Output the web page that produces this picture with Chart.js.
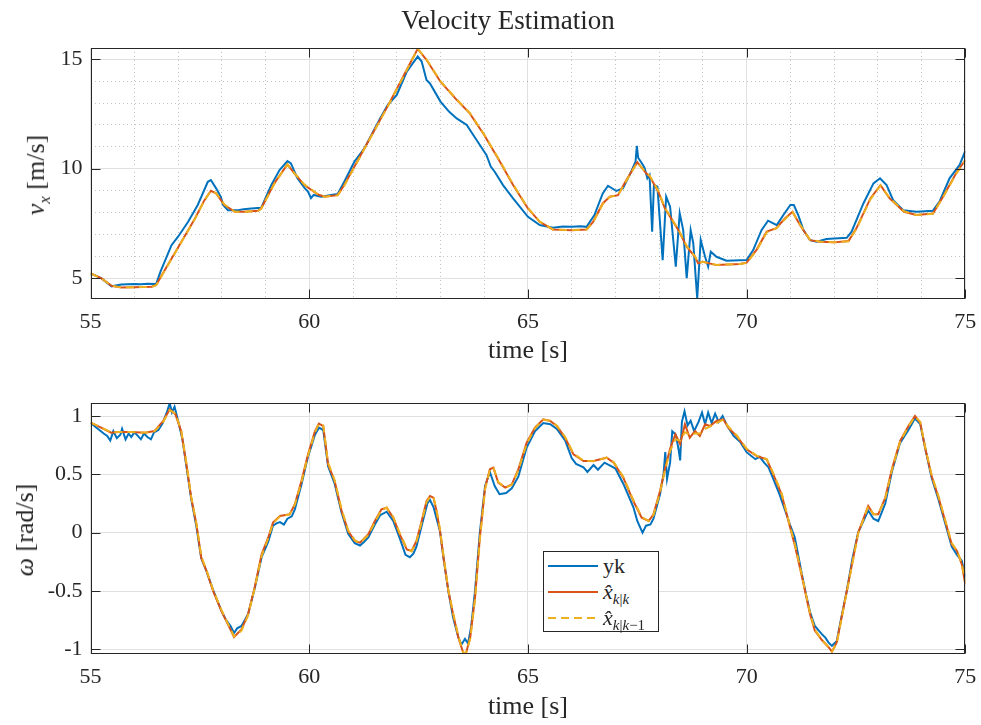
<!DOCTYPE html>
<html>
<head>
<meta charset="utf-8">
<title>Velocity Estimation</title>
<script src="https://cdn.jsdelivr.net/npm/chart.js@4.4.1/dist/chart.umd.min.js"></script>
<style>
  body { margin: 0; background: #fff; }
  #wrap { position: relative; width: 981px; height: 725px; font-family: "Liberation Serif", "DejaVu Serif", serif; color: #262626; }
  #vxChart { position: absolute; left: 0; top: 0; }
  #omegaChart { position: absolute; left: 0; top: 380px; }
  #title { position: absolute; left: 508px; top: 5px; transform: translateX(-50%); font-size: 27px; white-space: nowrap; }
  .ylab { position: absolute; font-size: 26px; white-space: nowrap; transform: translate(-50%, -50%) rotate(-90deg); }
  .ylab sub { font-size: 17px; }
  #legend { position: absolute; left: 543px; top: 551px; width: 114px; height: 79px; border: 1px solid #262626; background: #fff; }
  .lg-row { position: absolute; left: 4px; height: 26px; width: 110px; }
  .lg-line { position: absolute; left: 0; top: 12px; width: 50px; height: 2px; }
  .lg-text { position: absolute; left: 55px; top: 0; font-size: 22px; line-height: 26px; white-space: nowrap; }
  .lg-text sub { font-size: 15px; }
</style>
</head>
<body>
<div id="wrap">
  <canvas id="vxChart" width="981" height="370"></canvas>
  <canvas id="omegaChart" width="981" height="345"></canvas>
  <div id="title">Velocity Estimation</div>
  <div class="ylab" style="left:38px;top:175px"><i>v</i><sub><i>x</i></sub> [m/s]</div>
  <div class="ylab" style="left:25px;top:530px"><i>ω</i> [rad/s]</div>
  <div id="legend"></div>
</div>
<script>
// ---- data ----

// top plot: longitudinal velocity, measurement (yk)
const tVxMeas = [
  55, 55.25, 55.48, 55.7, 55.85, 56, 56.15, 56.3, 56.5, 56.6,
  56.85, 57.0, 57.23, 57.45, 57.68, 57.75, 57.87, 57.98, 58.03, 58.14,
  58.37, 58.5, 58.67, 58.9, 59.13, 59.32, 59.5, 59.58, 59.73, 59.9,
  59.97, 60.04, 60.1, 60.27, 60.5, 60.65, 60.8, 61.03, 61.26, 61.48,
  61.62, 61.79, 62.0, 62.23, 62.48, 62.57, 62.68, 62.76, 63.0, 63.2,
  63.37, 63.6, 63.75, 63.9, 64.05, 64.15, 64.24, 64.43, 64.66, 65.0,
  65.27, 65.57, 65.8, 66.0, 66.2, 66.34, 66.52, 66.71, 66.83, 67.02,
  67.17, 67.36, 67.46, 67.49, 67.52, 67.63, 67.67, 67.73, 67.78, 67.84,
  67.88, 67.96, 68.08, 68.16, 68.25, 68.38, 68.47, 68.55, 68.63, 68.72,
  68.78, 68.87, 68.95, 69.05, 69.12, 69.18, 69.31, 69.54, 70.0, 70.15,
  70.34, 70.49, 70.69, 70.84, 71.0, 71.08, 71.18, 71.3, 71.45, 71.6,
  71.83, 72.0, 72.29, 72.4, 72.67, 72.9, 73.05, 73.2, 73.35, 73.58,
  73.88, 74.26, 74.41, 74.64, 74.87, 75
];
const vxMeas = [
  5.21, 4.98, 4.62, 4.7, 4.72, 4.73, 4.71, 4.74, 4.73, 5.3,
  6.5, 6.89, 7.57, 8.34, 9.4, 9.48, 9.1, 8.7, 8.34, 8.1,
  8.1, 8.15, 8.18, 8.21, 9.25, 9.94, 10.35, 10.24, 9.56, 9.1,
  8.95, 8.65, 8.8, 8.72, 8.8, 8.84, 9.4, 10.32, 10.93, 11.77,
  12.3, 12.9, 13.37, 14.44, 15.13, 14.9, 14.06, 13.9, 13.07, 12.6,
  12.3, 12.0, 11.54, 11.08, 10.63, 10.1, 9.86, 9.25, 8.64, 7.8,
  7.42, 7.3, 7.36, 7.34, 7.37, 7.34, 7.88, 8.87, 9.22, 8.98,
  9.1, 9.86, 10.32, 11.04, 10.5, 10.17, 10.02, 9.56, 9.71, 7.12,
  9.25, 9.18, 5.82, 8.72, 8.26, 5.52, 7.96, 7.19, 4.99, 7.19,
  6.59, 4.07, 6.74, 5.97, 5.52, 6.2, 5.97, 5.79, 5.82, 6.28,
  7.19, 7.62, 7.42, 7.88, 8.34, 8.34, 7.88, 7.19, 6.73, 6.66,
  6.78, 6.81, 6.84, 7.12, 8.41, 9.33, 9.56, 9.25, 8.56, 8.1,
  8.03, 8.08, 8.49, 9.56, 10.17, 10.81
];

// top plot: filtered (k|k) and predicted (k|k-1) estimates
const tVxEst = [
  55, 55.25, 55.48, 55.7, 56, 56.4, 56.5, 56.62, 57, 57.38,
  57.6, 57.75, 57.87, 58.06, 58.3, 58.52, 58.83, 58.9, 59.2, 59.5,
  59.66, 59.89, 60.2, 60.35, 60.65, 60.8, 61.03, 61.41, 61.79, 62,
  62.3, 62.48, 62.68, 63, 63.37, 63.67, 64, 64.36, 64.66, 65,
  65.27, 65.57, 66, 66.34, 66.49, 66.71, 66.87, 67.06, 67.25, 67.5,
  67.7, 67.79, 67.98, 68.13, 68.32, 68.44, 68.63, 68.82, 68.89, 69,
  69.31, 69.85, 70, 70.23, 70.46, 70.68, 70.88, 71.05, 71.22, 71.45,
  71.68, 72, 72.33, 72.51, 72.83, 73.06, 73.27, 73.6, 73.88, 74.26,
  74.49, 74.79, 75
];
const vxFilt = [
  5.21, 4.98, 4.64, 4.57, 4.58, 4.6, 4.68, 5.1, 6.4, 7.7,
  8.55, 8.99, 8.87, 8.34, 8.03, 8.03, 8.08, 8.18, 9.33, 10.2,
  9.79, 9.25, 8.82, 8.72, 8.79, 9.25, 10.09, 11.47, 12.85, 13.65,
  14.8, 15.48, 14.98, 13.98, 13.15, 12.53, 11.54, 10.32, 9.25, 8.18,
  7.57, 7.22, 7.19, 7.22, 7.57, 8.41, 8.72, 8.79, 9.48, 10.3,
  9.8, 9.63, 8.95, 8.19, 7.58, 7.19, 6.43, 5.97, 5.67, 5.74,
  5.59, 5.64, 5.7, 6.3, 7.12, 7.28, 7.73, 8.03, 7.42, 6.73,
  6.66, 6.63, 6.69, 7.27, 8.64, 9.25, 8.64, 8.03, 7.88, 7.95,
  8.72, 9.79, 10.4
];
const vxPred = [
  5.21, 4.98, 4.64, 4.57, 4.58, 4.6, 4.67, 5.08, 6.38, 7.68,
  8.54, 8.99, 8.88, 8.36, 8.03, 8.03, 8.07, 8.17, 9.3, 10.2,
  9.8, 9.27, 8.83, 8.72, 8.78, 9.22, 10.06, 11.45, 12.83, 13.63,
  14.78, 15.48, 15.0, 14.0, 13.17, 12.55, 11.56, 10.35, 9.28, 8.2,
  7.58, 7.22, 7.19, 7.22, 7.55, 8.38, 8.71, 8.79, 9.45, 10.28,
  9.83, 9.66, 8.98, 8.22, 7.6, 7.22, 6.46, 5.99, 5.7, 5.74,
  5.6, 5.64, 5.69, 6.27, 7.09, 7.27, 7.7, 8.02, 7.45, 6.75,
  6.67, 6.63, 6.68, 7.24, 8.6, 9.23, 8.66, 8.05, 7.88, 7.94,
  8.69, 9.76, 10.38
];

// bottom plot: yaw rate, measurement (yk)
const tWMeas = [
  55, 55.1, 55.2, 55.3, 55.38, 55.45, 55.52, 55.6, 55.68, 55.72,
  55.8, 55.87, 55.93, 56.0, 56.08, 56.15, 56.22, 56.3, 56.38, 56.45,
  56.55, 56.65, 56.75, 56.81, 56.86, 56.92, 57.0, 57.1, 57.19, 57.3,
  57.42, 57.53, 57.65, 57.8, 57.99, 58.1, 58.2, 58.28, 58.35, 58.45,
  58.6, 58.75, 58.91, 59.06, 59.17, 59.25, 59.33, 59.42, 59.5, 59.6,
  59.67, 59.82, 59.97, 60.13, 60.22, 60.32, 60.43, 60.58, 60.74, 60.89,
  61.04, 61.16, 61.25, 61.35, 61.5, 61.62, 61.77, 61.92, 62.07, 62.2,
  62.3, 62.38, 62.45, 62.57, 62.7, 62.76, 62.84, 62.99, 63.07, 63.18,
  63.29, 63.41, 63.48, 63.56, 63.63, 63.7, 63.79, 63.9, 64.02, 64.13,
  64.24, 64.35, 64.5, 64.63, 64.78, 64.97, 65.16, 65.35, 65.51, 65.66,
  65.85, 66.0, 66.1, 66.27, 66.36, 66.5, 66.6, 66.75, 66.9, 67.0,
  67.18, 67.41, 67.5, 67.62, 67.7, 67.8, 67.87, 68.02, 68.1, 68.14,
  68.18, 68.25, 68.3, 68.38, 68.45, 68.48, 68.52, 68.58, 68.65, 68.72,
  68.8, 68.9, 68.98, 69.05, 69.12, 69.2, 69.28, 69.36, 69.45, 69.55,
  69.7, 69.85, 70.0, 70.1, 70.2, 70.3, 70.4, 70.5, 70.6, 70.75,
  70.9, 70.99, 71.06, 71.1, 71.26, 71.37, 71.45, 71.56, 71.65, 71.72,
  71.8, 71.87, 71.95, 72.06, 72.17, 72.29, 72.42, 72.55, 72.78, 72.9,
  73.01, 73.17, 73.32, 73.51, 73.7, 73.85, 73.97, 74.08, 74.23, 74.39,
  74.54, 74.69, 74.81, 74.92, 75
];
const wMeas = [
  0.94, 0.91, 0.88, 0.85, 0.83, 0.79, 0.87, 0.81, 0.84, 0.89,
  0.80, 0.85, 0.82, 0.86, 0.83, 0.80, 0.85, 0.82, 0.80, 0.86,
  0.88, 0.94, 1.04, 1.11, 1.03, 1.08, 0.96, 0.80, 0.57, 0.29,
  0.05, -0.22, -0.33, -0.49, -0.67, -0.75, -0.80, -0.86, -0.82, -0.80,
  -0.70, -0.48, -0.21, -0.08, 0.06, 0.08, 0.09, 0.07, 0.12, 0.14,
  0.20, 0.41, 0.65, 0.84, 0.90, 0.88, 0.57, 0.42, 0.17, -0.01,
  -0.09, -0.11, -0.08, -0.04, 0.07, 0.15, 0.18, 0.10, -0.05, -0.19,
  -0.21, -0.18, -0.12, 0.06, 0.25, 0.28, 0.22, 0.01, -0.22, -0.50,
  -0.73, -0.90, -0.96, -0.91, -0.95, -0.81, -0.50, 0.00, 0.40, 0.52,
  0.40, 0.33, 0.34, 0.38, 0.48, 0.73, 0.87, 0.94, 0.93, 0.89,
  0.79, 0.64, 0.59, 0.56, 0.52, 0.58, 0.54, 0.60, 0.57, 0.55,
  0.42, 0.22, 0.10, 0.00, 0.06, 0.07, 0.12, 0.33, 0.50, 0.69,
  0.46, 0.60, 0.87, 0.84, 0.70, 0.62, 0.95, 1.04, 0.92, 0.96,
  0.87, 0.95, 1.03, 0.93, 1.03, 0.94, 1.02, 0.95, 1.00, 0.92,
  0.83, 0.78, 0.69, 0.66, 0.63, 0.65, 0.60, 0.56, 0.47, 0.33,
  0.17, 0.07, 0.00, -0.04, -0.35, -0.55, -0.68, -0.80, -0.84, -0.87,
  -0.90, -0.94, -0.97, -0.93, -0.72, -0.50, -0.22, 0.00, 0.19, 0.12,
  0.10, 0.25, 0.52, 0.77, 0.88, 0.98, 0.93, 0.73, 0.47, 0.28,
  0.08, -0.12, -0.19, -0.24, -0.38
];

// bottom plot: filtered (k|k) and predicted (k|k-1) estimates
const tWEst = [
  55, 55.17, 55.32, 55.47, 55.63, 55.93, 56.24, 56.46, 56.66, 56.81,
  56.94, 57.07, 57.19, 57.3, 57.42, 57.53, 57.65, 57.8, 57.99, 58.14,
  58.28, 58.45, 58.6, 58.75, 58.91, 59.06, 59.17, 59.33, 59.55, 59.67,
  59.82, 59.97, 60.13, 60.22, 60.32, 60.43, 60.58, 60.74, 60.89, 61.04,
  61.16, 61.35, 61.5, 61.65, 61.77, 61.92, 62.07, 62.23, 62.34, 62.45,
  62.57, 62.68, 62.76, 62.84, 62.91, 62.99, 63.07, 63.18, 63.29, 63.41,
  63.52, 63.58, 63.68, 63.79, 63.9, 64.02, 64.13, 64.21, 64.32, 64.48,
  64.63, 64.78, 64.97, 65.16, 65.35, 65.51, 65.66, 65.85, 66.04, 66.27,
  66.5, 66.8, 66.96, 67.18, 67.41, 67.6, 67.76, 67.87, 68.02, 68.14,
  68.25, 68.37, 68.48, 68.59, 68.7, 68.82, 68.93, 69.05, 69.16, 69.31,
  69.47, 69.58, 69.77, 70.0, 70.23, 70.46, 70.61, 70.8, 70.99, 71.11,
  71.26, 71.37, 71.45, 71.56, 71.72, 71.87, 71.95, 72.06, 72.17, 72.29,
  72.55, 72.78, 72.9, 73.01, 73.17, 73.32, 73.51, 73.7, 73.85, 73.97,
  74.08, 74.23, 74.39, 74.54, 74.69, 74.81, 74.92, 75
];
const wFilt = [
  0.943, 0.914, 0.886, 0.857, 0.863, 0.863, 0.857, 0.871, 0.957, 1.057,
  1.014, 0.871, 0.586, 0.3, 0.071, -0.214, -0.329, -0.5, -0.671, -0.786,
  -0.894, -0.829, -0.7, -0.471, -0.186, -0.043, 0.086, 0.143, 0.157, 0.243,
  0.443, 0.671, 0.871, 0.934, 0.914, 0.586, 0.443, 0.186, 0.014, -0.071,
  -0.086, -0.014, 0.1, 0.2, 0.214, 0.129, -0.014, -0.143, -0.157, -0.071,
  0.1, 0.271, 0.314, 0.3, 0.186, 0.014, -0.214, -0.5, -0.7, -0.9,
  -1.029, -1.037, -0.9, -0.557, -0.043, 0.386, 0.543, 0.557, 0.429, 0.386,
  0.414, 0.543, 0.771, 0.9, 0.971, 0.957, 0.914, 0.814, 0.671, 0.614,
  0.614, 0.643, 0.6, 0.471, 0.271, 0.129, 0.1, 0.157, 0.357, 0.557,
  0.72, 0.843, 0.76, 0.929, 0.814, 0.871, 0.829, 0.929, 0.914, 0.957,
  0.971, 0.9, 0.829, 0.714, 0.657, 0.629, 0.5, 0.329, 0.05, -0.12,
  -0.37, -0.56, -0.7, -0.84, -0.92, -0.98, -1.02, -0.94, -0.729, -0.5,
  0.0, 0.229, 0.157, 0.157, 0.3, 0.543, 0.786, 0.914, 1.0, 0.943,
  0.729, 0.486, 0.3, 0.1, -0.1, -0.157, -0.271, -0.443
];
const wPred = [
  0.943, 0.915, 0.888, 0.86, 0.862, 0.863, 0.858, 0.868, 0.95, 1.05,
  1.02, 0.88, 0.6, 0.31, 0.08, -0.2, -0.32, -0.49, -0.66, -0.78,
  -0.89, -0.84, -0.71, -0.48, -0.2, -0.05, 0.08, 0.14, 0.157, 0.24,
  0.43, 0.66, 0.86, 0.935, 0.92, 0.6, 0.45, 0.2, 0.02, -0.065,
  -0.088, -0.02, 0.09, 0.195, 0.215, 0.135, -0.005, -0.135, -0.16, -0.08,
  0.09, 0.26, 0.31, 0.305, 0.195, 0.025, -0.2, -0.49, -0.69, -0.89,
  -1.025, -1.037, -0.91, -0.57, -0.06, 0.37, 0.54, 0.56, 0.435, 0.385,
  0.41, 0.535, 0.76, 0.895, 0.97, 0.96, 0.918, 0.82, 0.68, 0.617,
  0.613, 0.643, 0.605, 0.48, 0.28, 0.135, 0.1, 0.15, 0.345, 0.545,
  0.70, 0.80, 0.79, 0.86, 0.84, 0.85, 0.85, 0.89, 0.91, 0.94,
  0.97, 0.91, 0.835, 0.72, 0.66, 0.63, 0.51, 0.34, 0.06, -0.11,
  -0.36, -0.55, -0.69, -0.83, -0.92, -0.98, -1.02, -0.95, -0.74, -0.51,
  -0.01, 0.225, 0.16, 0.155, 0.295, 0.535, 0.78, 0.91, 0.995, 0.95,
  0.74, 0.495, 0.31, 0.11, -0.09, -0.155, -0.265, -0.43
];

const seriesLabels = ['yk', '<i>x\u0302</i><sub><i>k</i>|<i>k</i></sub>', '<i>x\u0302</i><sub><i>k</i>|<i>k</i>\u22121</sub>'];
const seriesColors = ['#0072BD', '#D95319', '#EDB120'];

const INK = '#262626';
const tickFont = { family: '"Liberation Serif", serif', size: 22 };
const labelFont = { family: '"Liberation Serif", serif', size: 26 };

function pts(ts, vs) {
  return ts.map((t, i) => ({ x: t, y: vs[i] }));
}

function isMultiple(v, step) {
  const r = v / step;
  return Math.abs(r - Math.round(r)) < 1e-6;
}

// MATLAB-like box with inward major ticks on all four sides
const axesBoxPlugin = {
  id: 'axesBox',
  afterDraw(chart, args, opts) {
    const { ctx, chartArea: a, scales } = chart;
    const L = Math.round(a.left) + 0.5, R = Math.round(a.right) - 0.5;
    const T = Math.round(a.top) + 0.5, B = Math.round(a.bottom) - 0.5;
    ctx.save();
    ctx.strokeStyle = INK;
    ctx.lineWidth = 1;
    ctx.beginPath();
    scales.x.ticks.forEach(t => {
      if (!isMultiple(t.value, opts.xMajor)) return;
      const px = Math.round(scales.x.getPixelForValue(t.value)) + 0.5;
      ctx.moveTo(px, T); ctx.lineTo(px, T + 9);
      ctx.moveTo(px, B); ctx.lineTo(px, B - 9);
    });
    scales.y.ticks.forEach(t => {
      if (!isMultiple(t.value, opts.yMajor)) return;
      const py = Math.round(scales.y.getPixelForValue(t.value)) + 0.5;
      ctx.moveTo(L, py); ctx.lineTo(L + 9, py);
      ctx.moveTo(R, py); ctx.lineTo(R - 9, py);
    });
    ctx.stroke();
    ctx.strokeRect(L, T, R - L, B - T);
    ctx.restore();
  }
};

function lineSets(meas, filt, pred) {
  return [
    { label: 'yk', data: meas, borderColor: seriesColors[0], borderWidth: 2, order: 2 },
    { label: 'x k|k', data: filt, borderColor: seriesColors[1], borderWidth: 2, order: 1 },
    { label: 'x k|k-1', data: pred, borderColor: seriesColors[2], borderWidth: 2, borderDash: [8, 5], order: 0 }
  ];
}

function axisX(step, major, titlePad) {
  return {
    type: 'linear', min: 55, max: 75,
    afterFit(scale) {
      // fixed height and no extra side padding for the end labels
      scale.height = 71;
      scale.paddingLeft = 0;
      scale.paddingRight = 0;
    },
    ticks: {
      stepSize: step, maxTicksLimit: 100, autoSkip: false, maxRotation: 0, padding: 10,
      font: tickFont, color: INK,
      callback: v => isMultiple(v, major) ? String(v) : ''
    },
    grid: {
      drawTicks: false, lineWidth: 1,
      color: c => (c.tick && !isMultiple(c.tick.value, major)) ? 'rgba(38,38,38,0.28)' : '#e0e0e0'
    },
    border: { display: false, dash: c => (c.tick && !isMultiple(c.tick.value, major)) ? [1, 3] : [] },
    title: { display: true, text: 'time [s]', font: labelFont, color: INK, padding: { top: 0, bottom: titlePad } }
  };
}

function axisY(min, max, step, major) {
  return {
    type: 'linear', min: min, max: max,
    afterFit(scale) {
      scale.width = 90.6;
      scale.paddingTop = 0;
      scale.paddingBottom = 0;
    },
    ticks: {
      stepSize: step, maxTicksLimit: 100, includeBounds: false, autoSkip: false, padding: 8,
      font: tickFont, color: INK,
      callback: v => isMultiple(v, major) ? String(v) : ''
    },
    grid: {
      drawTicks: false, lineWidth: 1,
      color: c => (c.tick && !isMultiple(c.tick.value, major)) ? 'rgba(38,38,38,0.28)' : '#e0e0e0'
    },
    border: { display: false, dash: c => (c.tick && !isMultiple(c.tick.value, major)) ? [1, 3] : [] }
  };
}

function makeChart(id, datasets, xAxis, yAxis, padTop, box) {
  return new Chart(document.getElementById(id), {
    type: 'line',
    data: { datasets: datasets },
    options: {
      responsive: false,
      animation: false,
      parsing: false,
      elements: { point: { radius: 0 }, line: { tension: 0, borderCapStyle: 'butt' } },
      layout: { padding: { top: padTop, right: 15.7, bottom: 0, left: 0 } },
      scales: { x: xAxis, y: yAxis },
      plugins: { legend: { display: false }, tooltip: { enabled: false }, axesBox: box }
    },
    plugins: [axesBoxPlugin]
  });
}

makeChart('vxChart',
  lineSets(pts(tVxMeas, vxMeas), pts(tVxEst, vxFilt), pts(tVxEst, vxPred)),
  axisX(1, 5, 3.4), axisY(4.04, 15.52, 1, 5), 48, { xMajor: 5, yMajor: 5 });

makeChart('omegaChart',
  lineSets(pts(tWMeas, wMeas), pts(tWEst, wFilt), pts(tWEst, wPred)),
  axisX(5, 5, 2.4), axisY(-1.04, 1.109, 0.5, 0.5), 23.3, { xMajor: 5, yMajor: 0.5 });

// legend for the bottom plot
const legend = document.getElementById('legend');
seriesLabels.forEach((lbl, i) => {
  const row = document.createElement('div');
  row.className = 'lg-row';
  row.style.top = (1 + i * 26) + 'px';
  const line = document.createElement('div');
  line.className = 'lg-line';
  if (i === 2) {
    line.style.background = 'repeating-linear-gradient(90deg, ' + seriesColors[i] + ' 0 8px, transparent 8px 13px)';
  } else {
    line.style.background = seriesColors[i];
  }
  const text = document.createElement('div');
  text.className = 'lg-text';
  text.innerHTML = lbl;
  row.appendChild(line);
  row.appendChild(text);
  legend.appendChild(row);
});
</script>
</body>
</html>
